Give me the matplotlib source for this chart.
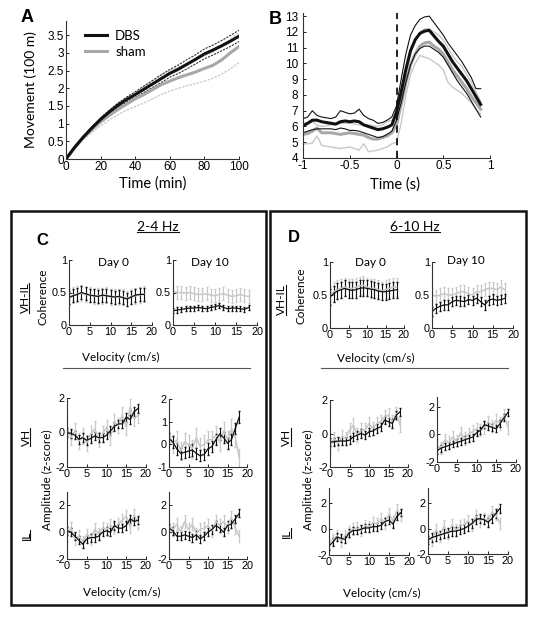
import numpy as np
import matplotlib
matplotlib.use("Agg")
import matplotlib.pyplot as plt
from matplotlib.lines import Line2D
from matplotlib.patches import Rectangle

# ---------------- data ----------------
# A: cumulative movement (100 m) vs time (min)
t_a = [0, 5, 10, 15, 20, 25, 30, 35, 40, 45, 50, 55, 60, 65, 70, 75, 80, 85, 90, 95, 100]
dbs_a = [0, 0.33, 0.62, 0.88, 1.12, 1.33, 1.52, 1.68, 1.82, 1.97, 2.12, 2.27, 2.42,
         2.54, 2.68, 2.82, 2.97, 3.08, 3.20, 3.33, 3.47]
dbs_a_hi = [0, 0.34, 0.64, 0.91, 1.16, 1.38, 1.58, 1.75, 1.90, 2.06, 2.22, 2.38, 2.53,
            2.66, 2.81, 2.95, 3.11, 3.22, 3.35, 3.49, 3.64]
dbs_a_lo = [0, 0.32, 0.60, 0.85, 1.08, 1.28, 1.46, 1.61, 1.74, 1.88, 2.02, 2.16, 2.31,
            2.42, 2.55, 2.69, 2.83, 2.94, 3.06, 3.18, 3.32]
sham_a = [0, 0.32, 0.60, 0.83, 1.05, 1.23, 1.40, 1.55, 1.70, 1.82, 1.96, 2.10, 2.20,
          2.30, 2.38, 2.46, 2.56, 2.65, 2.80, 3.00, 3.18]
sham_a_hi = [0, 0.34, 0.64, 0.90, 1.14, 1.35, 1.55, 1.72, 1.88, 2.05, 2.20, 2.36, 2.50,
             2.60, 2.70, 2.80, 2.92, 3.02, 3.18, 3.38, 3.58]
sham_a_lo = [0, 0.30, 0.55, 0.75, 0.94, 1.10, 1.25, 1.38, 1.48, 1.58, 1.70, 1.82, 1.92,
             2.00, 2.07, 2.13, 2.20, 2.28, 2.40, 2.55, 2.72]

# B: event-triggered velocity vs time (s)
t_b = np.round(np.arange(-1.0, 0.91, 0.05), 2)
dbs_b = [6.05, 6.20, 6.40, 6.40, 6.30, 6.25, 6.20, 6.15, 6.30, 6.35, 6.30, 6.35, 6.30,
         6.10, 6.00, 5.90, 5.80, 5.85, 5.95, 6.10, 6.90, 8.20, 9.60, 10.80, 11.50, 11.90,
         12.05, 12.10, 11.75, 11.40, 11.10, 10.60, 10.10, 9.70, 9.30, 8.90, 8.40, 7.90, 7.40]
dbs_b_hi = [6.50, 6.60, 7.00, 6.70, 6.60, 6.55, 6.50, 6.60, 7.00, 6.90, 6.80, 6.85, 7.10,
            6.70, 6.50, 6.40, 6.20, 6.25, 6.40, 6.60, 7.30, 9.00, 10.60, 11.80, 12.40, 12.80,
            12.95, 13.00, 12.60, 12.20, 11.80, 11.30, 10.90, 10.50, 10.10, 9.60, 9.10, 8.40, 8.40]
dbs_b_lo = [5.60, 5.70, 5.80, 5.85, 5.85, 5.85, 5.85, 5.80, 5.90, 5.85, 5.75, 5.75, 5.70,
            5.60, 5.50, 5.40, 5.30, 5.35, 5.50, 5.70, 6.40, 7.50, 8.80, 9.90, 10.60, 10.95,
            11.10, 11.10, 10.90, 10.70, 10.40, 9.90, 9.40, 8.90, 8.50, 8.10, 7.60, 7.10, 6.60]
sham_b = [5.50, 5.55, 5.70, 5.90, 5.60, 5.60, 5.60, 5.55, 5.50, 5.55, 5.60, 5.55, 5.50,
          5.45, 5.30, 5.20, 5.20, 5.30, 5.40, 5.60, 6.10, 7.40, 8.80, 9.90, 10.60, 11.10,
          11.30, 11.35, 11.10, 10.90, 10.60, 10.10, 9.60, 9.20, 8.80, 8.40, 7.90, 7.50, 7.10]
sham_b_hi = [6.20, 6.25, 6.30, 6.10, 6.00, 6.05, 6.10, 6.15, 6.20, 6.20, 6.20, 6.15, 6.10,
             6.10, 6.10, 6.05, 6.00, 6.10, 6.30, 6.40, 6.60, 8.20, 9.80, 10.90, 11.50, 12.00,
             12.20, 12.20, 12.00, 11.80, 11.50, 11.00, 10.50, 10.10, 9.80, 9.30, 8.80, 8.20, 7.60]
sham_b_lo = [4.90, 4.90, 4.95, 5.40, 4.80, 4.75, 4.70, 4.65, 4.60, 4.65, 4.70, 4.60, 4.50,
             4.90, 4.40, 4.45, 4.50, 4.60, 4.70, 4.90, 5.00, 6.20, 8.00, 9.30, 10.00, 10.50,
             10.40, 10.30, 10.10, 9.90, 9.60, 8.80, 8.50, 8.30, 8.10, 7.80, 7.50, 7.10, 6.80]

# C / D: coherence and amplitude vs velocity (cm/s)
vel = [0, 1, 2, 3, 4, 5, 6, 7, 8, 9, 10, 11, 12, 13, 14, 15, 16, 17, 18]

c_coh_d0_dbs = [0.42, 0.45, 0.47, 0.50, 0.48, 0.46, 0.45, 0.44, 0.46, 0.45, 0.44, 0.43, 0.44,
                0.42, 0.40, 0.43, 0.46, 0.47, 0.47]
c_coh_d0_sham = [0.44, 0.46, 0.48, 0.49, 0.47, 0.47, 0.44, 0.45, 0.45, 0.46, 0.43, 0.44, 0.43,
                 0.43, 0.41, 0.44, 0.45, 0.46, 0.48]
c_coh_d10_dbs = [0.22, 0.23, 0.24, 0.25, 0.26, 0.26, 0.27, 0.26, 0.25, 0.27, 0.28, 0.30, 0.27,
                 0.25, 0.26, 0.26, 0.25, 0.24, 0.27]
c_coh_d10_sham = [0.52, 0.50, 0.50, 0.49, 0.50, 0.48, 0.47, 0.47, 0.48, 0.46, 0.45, 0.47, 0.48,
                  0.46, 0.44, 0.45, 0.47, 0.45, 0.44]
c_vh_d0_dbs = [0.00, -0.05, -0.15, -0.40, -0.30, -0.45, -0.35, -0.20, -0.30, -0.30, -0.15, 0.10,
               0.35, 0.50, 0.50, 0.90, 0.75, 1.20, 1.40]
c_vh_d0_sham = [0.30, -0.30, 0.10, -0.50, -0.20, -0.60, -0.10, 0.20, -0.40, -0.10, 0.30, -0.30,
                0.60, 0.40, 1.00, 0.30, 1.50, 0.80, 1.00]
c_vh_d10_dbs = [0.25, 0.10, -0.20, -0.40, -0.35, -0.30, -0.25, -0.40, -0.50, -0.45, -0.20, -0.10,
                0.20, 0.45, 0.30, 0.05, 0.20, 0.70, 1.20]
c_vh_d10_sham = [0.50, 0.00, 0.20, -0.30, 0.10, 0.00, -0.20, 0.30, -0.10, 0.00, 0.20, 0.20,
                 0.40, 0.10, 0.60, 0.20, 0.70, 0.30, -0.60]
c_il_d0_dbs = [0.10, 0.00, -0.30, -0.60, -0.90, -0.50, -0.40, -0.40, -0.30, 0.00, 0.10, 0.00,
               0.50, 0.30, 0.30, 0.50, 1.00, 0.80, 0.90]
c_il_d0_sham = [-0.20, 0.30, -0.50, -0.30, -0.70, -0.20, -0.50, 0.20, -0.10, 0.30, 0.20, 0.50,
                0.30, 0.60, 0.90, 1.20, 0.40, 1.30, 0.70]
c_il_d10_dbs = [0.30, 0.10, -0.30, -0.30, -0.20, -0.30, -0.40, -0.20, -0.50, -0.30, 0.00, 0.20,
                0.50, 0.30, 0.00, 0.50, 0.60, 1.00, 1.40]
c_il_d10_sham = [0.50, 0.20, 0.60, 0.00, 0.80, 0.20, 0.60, -0.10, 0.20, 0.30, 0.50, 0.10,
                 0.80, 0.50, 0.80, 0.40, 1.10, 0.30, -0.30]

d_coh_d0_dbs = [0.47, 0.52, 0.56, 0.58, 0.60, 0.58, 0.57, 0.58, 0.60, 0.61, 0.60, 0.59, 0.58,
                0.56, 0.55, 0.55, 0.56, 0.57, 0.58]
d_coh_d0_sham = [0.50, 0.55, 0.58, 0.60, 0.62, 0.60, 0.60, 0.62, 0.64, 0.65, 0.62, 0.60, 0.60,
                 0.58, 0.56, 0.58, 0.60, 0.62, 0.62]
d_coh_d10_dbs = [0.25, 0.30, 0.33, 0.35, 0.35, 0.40, 0.42, 0.41, 0.40, 0.43, 0.42, 0.45, 0.40,
                 0.35, 0.42, 0.44, 0.42, 0.43, 0.45]
d_coh_d10_sham = [0.50, 0.48, 0.50, 0.52, 0.50, 0.50, 0.52, 0.55, 0.55, 0.52, 0.50, 0.55, 0.55,
                  0.58, 0.60, 0.60, 0.58, 0.62, 0.58]
d_vh_d0_dbs = [-0.50, -0.50, -0.45, -0.45, -0.45, -0.40, -0.20, -0.10, 0.00, -0.10, 0.10, 0.15,
               0.30, 0.40, 0.80, 0.70, 0.60, 1.10, 1.30]
d_vh_d0_sham = [-0.80, -0.30, -0.60, -0.20, -0.30, 0.20, 0.50, -0.10, 0.20, 0.20, 0.60, 0.30,
                0.60, 0.70, 1.00, 1.10, 0.70, 1.20, 0.50]
d_vh_d10_dbs = [-1.20, -1.00, -0.90, -0.80, -0.70, -0.60, -0.50, -0.40, -0.30, -0.20, 0.10, 0.30,
                0.70, 0.60, 0.50, 0.40, 0.80, 1.20, 1.60]
d_vh_d10_sham = [-0.80, -1.00, -0.40, -0.60, -0.20, -0.50, 0.10, -0.30, 0.00, 0.20, 0.40, 0.30,
                 0.50, 0.90, 0.60, 1.00, 0.80, 1.40, 0.50]
d_il_d0_dbs = [-1.30, -1.00, -0.60, -0.70, -0.80, -0.30, -0.10, -0.10, 0.00, 0.10, 0.10, 0.20,
               0.20, 0.30, 0.60, 0.70, 0.40, 1.00, 1.30]
d_il_d0_sham = [-1.10, -0.80, -0.50, -0.90, -0.50, -0.20, 0.00, 0.10, -0.10, 0.30, 0.20, 0.50,
                0.40, 0.80, 0.50, 1.20, 0.60, 1.50, 1.10]
d_il_d10_dbs = [-0.90, -0.70, -0.60, -0.50, -0.40, -0.30, -0.20, -0.20, -0.10, 0.00, 0.20, 0.40,
                0.70, 0.80, 0.70, 0.50, 0.80, 1.20, 1.60]
d_il_d10_sham = [-0.60, -0.90, -0.10, -0.60, 0.20, -0.40, 0.30, -0.10, 0.20, 0.30, 0.60, 0.30,
                 1.00, 0.60, 0.80, 0.60, 1.30, 1.10, 0.40]

# ---------------- figure ----------------
W, H = 538, 618
plt.rcParams['font.family'] = ['Liberation Sans', 'DejaVu Sans']
fig = plt.figure(figsize=(W / 100, H / 100), dpi=100)
LAB = 'Lato'
BLACK = '#111111'
GREY = '#a8a8a8'
LGREY = '#c8c8c8'


def px_axes(l, t, r, b):
    return fig.add_axes([l / W, 1 - b / H, (r - l) / W, (b - t) / H])


def px_text(x, y, s, **kw):
    kw.setdefault('ha', 'center')
    kw.setdefault('va', 'center')
    kw.setdefault('family', LAB)
    return fig.text(x / W, 1 - y / H, s, **kw)


def style(ax, fs):
    for s in ('top', 'right'):
        ax.spines[s].set_visible(False)
    for s in ('left', 'bottom'):
        ax.spines[s].set_linewidth(0.8)
        ax.spines[s].set_color('#333333')
    ax.tick_params(direction='in', length=2, width=0.6, labelsize=fs, pad=1.5)


# ---- A ----
ax = px_axes(66, 21, 239, 159)
ax.plot(t_a, sham_a_lo, color=LGREY, lw=0.9, ls=(0, (2, 1)))
ax.plot(t_a, sham_a_hi, color=LGREY, lw=0.9, ls=(0, (2, 1)))
ax.plot(t_a, dbs_a_lo, color='#333333', lw=0.8, ls=(0, (2, 1)))
ax.plot(t_a, dbs_a_hi, color='#333333', lw=0.8, ls=(0, (2, 1)))
ax.plot(t_a, sham_a, color=GREY, lw=2.2, label='sham')
ax.plot(t_a, dbs_a, color=BLACK, lw=2.2, label='DBS')
ax.set_xlim(0, 100)
ax.set_ylim(0, 3.9)
ax.set_xticks([0, 20, 40, 60, 80, 100])
ax.set_yticks([0, 0.5, 1, 1.5, 2, 2.5, 3, 3.5])
ax.set_yticklabels(['0', '0.5', '1', '1.5', '2', '2.5', '3', '3.5'])
style(ax, 8.5)
h, l = ax.get_legend_handles_labels()
ax.legend(h[::-1], l[::-1], loc='upper left', bbox_to_anchor=(0.04, 1.02), frameon=False,
          handlelength=1.7, handletextpad=0.6, labelspacing=0.3,
          prop={'family': LAB, 'size': 9.5})
px_text(31, 90, 'Movement (100 m)', rotation=90, size=10)
px_text(153, 184, 'Time (min)', size=10.5)
px_text(27, 18, 'A', weight='bold', size=13, family='Liberation Sans')

# ---- B ----
ax = px_axes(303, 13, 490, 158)
ax.plot(t_b, sham_b_lo, color=LGREY, lw=1.0)
ax.plot(t_b, sham_b_hi, color=LGREY, lw=1.0)
ax.plot(t_b, sham_b, color=GREY, lw=2.2)
ax.plot(t_b, dbs_b_lo, color=BLACK, lw=0.8)
ax.plot(t_b, dbs_b_hi, color=BLACK, lw=0.8)
ax.plot(t_b, dbs_b, color=BLACK, lw=2.2)
ax.axvline(0, color=BLACK, lw=1.3, ls=(0, (4, 3)))
ax.set_xlim(-1, 1)
ax.set_ylim(4, 13.2)
ax.set_xticks([-1, -0.5, 0, 0.5, 1])
ax.set_xticklabels(['-1', '-0.5', '0', '0.5', '1'])
ax.set_yticks(range(4, 14))
style(ax, 8.5)
ax.tick_params(axis='y', pad=3.5)
px_text(395, 185, 'Time (s)', size=10.5)
px_text(275, 19, 'B', weight='bold', size=13, family='Liberation Sans')

# ---- C and D boxes ----
for (l, r) in ((11, 266), (270, 526)):
    fig.add_artist(Rectangle((l / W, 1 - 605 / H), (r - l) / W, (605 - 211) / H,
                             transform=fig.transFigure, fill=False, lw=1.8, ec=BLACK))

grid_ticks = [0, 5, 10, 15, 20]


def ebpanel(rect, sham, dbs, esham, edbs, ylim, yticks):
    ax = px_axes(*rect)
    ax.errorbar(vel, sham, yerr=esham, color=LGREY, lw=1.1, elinewidth=0.9, capsize=0.9)
    ax.errorbar(vel, dbs, yerr=edbs, color=BLACK, lw=0.9, elinewidth=0.8, capsize=0.9)
    ax.set_xlim(0, 20)
    ax.set_ylim(*ylim)
    ax.set_xticks(grid_ticks)
    ax.set_yticks(yticks)
    ax.set_yticklabels([('%g' % y) for y in yticks])
    style(ax, 7.8)
    return ax


# panel C
ebpanel((69, 260, 152, 325), c_coh_d0_sham, c_coh_d0_dbs, 0.12, 0.10, (0, 1), [0, 0.5, 1])
ebpanel((173, 260, 257, 325), c_coh_d10_sham, c_coh_d10_dbs, 0.10, 0.04, (0, 1), [0, 0.5, 1])
ebpanel((67, 398, 146, 467), c_vh_d0_sham, c_vh_d0_dbs, 0.45, 0.25, (-2, 2), [-2, 0, 2])
ebpanel((169, 399, 247, 467), c_vh_d10_sham, c_vh_d10_dbs, 0.40, 0.25, (-1, 2), [-1, 0, 1, 2])
ebpanel((67, 492, 146, 559), c_il_d0_sham, c_il_d0_dbs, 0.45, 0.30, (-2, 3), [-2, 0, 2])
ebpanel((169, 492, 247, 559), c_il_d10_sham, c_il_d10_dbs, 0.45, 0.30, (-2, 3), [-2, 0, 2])

# panel D
ebpanel((330, 262, 404, 328), d_coh_d0_sham, d_coh_d0_dbs, 0.14, 0.12, (0, 1), [0, 0.5, 1])
ebpanel((432, 262, 513, 328), d_coh_d10_sham, d_coh_d10_dbs, 0.10, 0.07, (0, 1), [0, 0.5, 1])
ebpanel((330, 400, 408, 467), d_vh_d0_sham, d_vh_d0_dbs, 0.40, 0.25, (-2, 2), [-2, 0, 2])
ebpanel((437, 397, 516, 462), d_vh_d10_sham, d_vh_d10_dbs, 0.45, 0.25, (-2, 2.7), [-2, 0, 2])
ebpanel((329, 488, 409, 555), d_il_d0_sham, d_il_d0_dbs, 0.45, 0.30, (-2, 3.2), [-2, 0, 2])
ebpanel((428, 488, 508, 554), d_il_d10_sham, d_il_d10_dbs, 0.45, 0.35, (-2, 3.2), [-2, 0, 2])

under_h = []
under_v = []
# C labels
under_h.append(px_text(158, 227, '2-4 Hz', size=10))
px_text(42, 240, 'C', weight='bold', size=12, family='Liberation Sans')
px_text(113, 262, 'Day 0', size=8.5)
px_text(210, 262, 'Day 10', size=8.5)
px_text(43, 297, 'Coherence', rotation=90, size=8.5)
under_v.append(px_text(25, 298, 'VH-IL', rotation=90, size=8.5))
px_text(121, 357, 'Velocity (cm/s)', size=8.5)
px_text(47, 480, 'Amplitude (z-score)', rotation=90, size=8.5)
under_v.append(px_text(26, 437, 'VH', rotation=90, size=8.5))
under_v.append(px_text(26, 535, 'IL', rotation=90, size=8.5))
px_text(122, 592, 'Velocity (cm/s)', size=8.5)
fig.add_artist(Line2D([63 / W, 250 / W], [1 - 368 / H] * 2, transform=fig.transFigure,
                      color='#555555', lw=0.8))

# D labels
under_h.append(px_text(415, 227, '6-10 Hz', size=10))
px_text(294, 238, 'D', weight='bold', size=12, family='Liberation Sans')
px_text(370, 263, 'Day 0', size=8.5)
px_text(466, 261, 'Day 10', size=8.5)
px_text(301, 296, 'Coherence', rotation=90, size=8.5)
under_v.append(px_text(281, 300, 'VH-IL', rotation=90, size=8.5))
px_text(376, 358, 'Velocity (cm/s)', size=8.5)
px_text(308, 480, 'Amplitude (z-score)', rotation=90, size=8.5)
under_v.append(px_text(286, 437, 'VH', rotation=90, size=8.5))
under_v.append(px_text(286, 533, 'IL', rotation=90, size=8.5))
px_text(382, 593, 'Velocity (cm/s)', size=8.5)
fig.add_artist(Line2D([321 / W, 508 / W], [1 - 368 / H] * 2, transform=fig.transFigure,
                      color='#555555', lw=0.8))

# underlines
fig.canvas.draw()
inv = fig.transFigure.inverted()
for t in under_h:
    bb = t.get_window_extent().transformed(inv)
    y = bb.y0 + 1.0 / H
    fig.add_artist(Line2D([bb.x0, bb.x1], [y, y], transform=fig.transFigure, color=BLACK, lw=0.8))
for t in under_v:
    bb = t.get_window_extent().transformed(inv)
    x = bb.x1 - 1.0 / W
    fig.add_artist(Line2D([x, x], [bb.y0, bb.y1], transform=fig.transFigure, color=BLACK, lw=0.8))

fig.savefig('out.png', dpi=100)
